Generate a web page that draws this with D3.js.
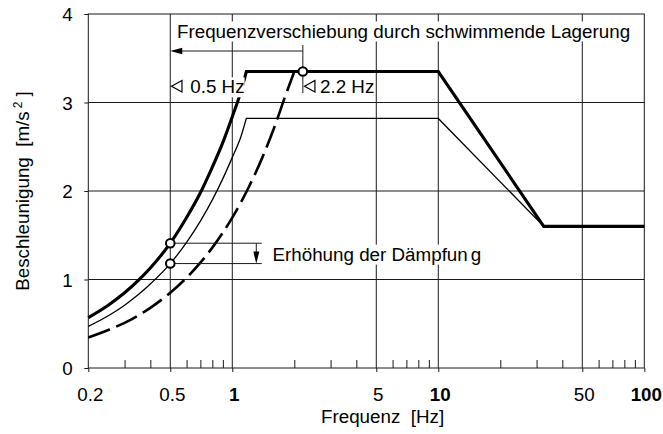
<!DOCTYPE html>
<html><head><meta charset="utf-8">
<script src="https://cdn.jsdelivr.net/npm/d3@7"></script>
<style>
body{margin:0;background:#fff}
svg{display:block}
text{font-family:"Liberation Sans",Arial,Helvetica,sans-serif;fill:#000;white-space:pre}
</style>
</head><body>
<svg id="chart" width="663" height="434"></svg>
<script>
// ---- data ----
const xTicks = [0.2, 0.5, 1, 5, 10, 50, 100];
const xTickLabels = ["0.2", "0.5", "1", "5", "10", "50", "100"];
const xBoldLabels = ["1", "10", "100"];
const xMinorTicks = [0.3, 0.4, 0.6, 0.7, 0.8, 0.9, 2, 3, 4, 6, 7, 8, 9, 20, 30, 40, 60, 70, 80, 90];
const yTicks = [0, 1, 2, 3, 4];
const xGrid = [0.5, 1, 5, 10, 50];
const yGrid = [1, 2, 3];

// rising branches (frequency in Hz, acceleration in m/s^2)
const riseFreq = [0.2, 0.25, 0.3, 0.35, 0.4, 0.5, 0.6, 0.7, 0.8, 0.9, 1.0, 1.1, 1.17];
const boldRise = [0.57, 0.71, 0.85, 0.99, 1.13, 1.41, 1.70, 1.98, 2.27, 2.55, 2.84, 3.12, 3.35];
const thinRise = [0.47, 0.59, 0.71, 0.83, 0.95, 1.18, 1.42, 1.66, 1.90, 2.14, 2.38, 2.61, 2.82];
const dashFreq = [0.2, 0.25, 0.3, 0.4, 0.5, 0.6, 0.7, 0.8, 1.0, 1.2, 1.4, 1.6, 1.8, 2.0];
const dashRise = [0.345, 0.43, 0.51, 0.68, 0.85, 1.02, 1.19, 1.36, 1.70, 2.04, 2.38, 2.72, 3.06, 3.35];

// plateaus and descending branches
const boldTailFreq = [1.17, 10, 32.5, 100];
const boldTail = [3.35, 3.35, 1.6, 1.6];
const thinTailFreq = [1.17, 10, 32.5];
const thinTail = [2.82, 2.82, 1.6];

// marked points
const markerFreq = [0.5, 0.5, 2.2];
const markerVal = [1.41, 1.18, 3.35];

const shiftFromFreq = 2.2, shiftToFreq = 0.5;
const titleText = "Frequenzverschiebung durch schwimmende Lagerung";
const label05 = "0.5 Hz";
const label22 = "2.2 Hz";
const dampText = "Erhöhung der Dämpfun";
const dampTextEnd = "g";
const xTitle = "Frequenz  [Hz]";
const yTitle = "Beschleunigung  [m/s";

// ---- drawing ----
const FS = 18.8;
const svg = d3.select("#chart");
svg.append("rect").attr("width", 663).attr("height", 434).attr("fill", "#fff");

const x = d3.scaleLog().domain([0.2, 100]).range([88.3, 644.3]);
const y = d3.scaleLinear().domain([0, 4]).range([368, 14]);
const X0 = x.range()[0], X1 = x.range()[1], Y0 = y.range()[0], Y1 = y.range()[1];

const gridCol = "#1a1a1a";
const grid = svg.append("g").attr("stroke", gridCol).attr("stroke-width", 1).attr("fill", "none");
xGrid.forEach(f => grid.append("line").attr("x1", x(f)).attr("x2", x(f)).attr("y1", Y1).attr("y2", Y0));
yGrid.forEach(v => grid.append("line").attr("x1", X0).attr("x2", X1).attr("y1", y(v)).attr("y2", y(v)));
grid.append("rect").attr("x", X0).attr("y", Y1).attr("width", X1 - X0).attr("height", Y0 - Y1);

// axes
const xAxis = svg.append("g").attr("transform", `translate(0,${Y0})`)
  .call(d3.axisBottom(x).tickValues(xTicks).tickFormat((d, i) => xTickLabels[i]).tickSize(4).tickPadding(15.8));
xAxis.select(".domain").remove();
xAxis.selectAll("line").attr("stroke", gridCol);
xAxis.selectAll("text").attr("font-size", FS).attr("font-family", null).attr("dx", "0.08em")
  .attr("font-weight", d => xBoldLabels.includes(xTickLabels[xTicks.indexOf(d)]) ? "bold" : "normal");

const xMinor = svg.append("g").attr("transform", `translate(0,${Y0})`)
  .call(d3.axisBottom(x).tickValues(xMinorTicks).tickFormat("").tickSize(-8));
xMinor.select(".domain").remove();
xMinor.selectAll("line").attr("stroke", gridCol);

const yAxis = svg.append("g").attr("transform", `translate(${X0},0)`)
  .call(d3.axisLeft(y).tickValues(yTicks).tickFormat(d3.format("d")).tickSize(4).tickPadding(11.6));
yAxis.select(".domain").remove();
yAxis.selectAll("line").attr("stroke", gridCol);
yAxis.selectAll("text").attr("font-size", FS).attr("font-family", null).attr("dy", "0.36em");

// axis titles
svg.append("text").attr("x", 321).attr("y", 422.5).attr("font-size", FS).text(xTitle);
const yt = svg.append("text").attr("transform", "translate(28.5,191) rotate(-90)")
  .attr("text-anchor", "middle").attr("font-size", FS);
yt.append("tspan").text(yTitle);
yt.append("tspan").attr("dx", 3).attr("dy", -6.5).attr("font-size", 12).text("2");
yt.append("tspan").attr("dy", 6.5).text(" ]");

// curves
function seriesPath(fr, vals, tailFr, tailVals) {
  const pts = fr.map((f, i) => [x(f), y(vals[i])]);
  let p = d3.line().curve(d3.curveMonotoneX)(pts);
  if (tailFr) {
    const tail = d3.line()(tailFr.map((f, i) => [x(f), y(tailVals[i])]));
    p += tail.replace(/^M[^L]*/, "");
  }
  return p;
}
const curves = svg.append("g").attr("fill", "none").attr("stroke", "#000").attr("stroke-linejoin", "miter");
curves.append("path").attr("d", seriesPath(riseFreq, thinRise, thinTailFreq, thinTail)).attr("stroke-width", 1.3);
curves.append("path").attr("d", seriesPath(dashFreq, dashRise)).attr("stroke-width", 2.6).attr("stroke-dasharray", "23,7");
curves.append("path").attr("d", seriesPath(riseFreq, boldRise, boldTailFreq, boldTail)).attr("stroke-width", 3.1);

// labels with white backgrounds
function bgText(tx, ty, parts, padX) {
  const g = svg.append("g");
  const r = g.append("rect").attr("fill", "#fff");
  const t = g.append("text").attr("x", tx).attr("y", ty).attr("font-size", FS);
  parts.forEach(p => { const s = t.append("tspan").text(p.text); if (p.dx) s.attr("dx", p.dx); });
  const b = t.node().getBBox();
  r.attr("x", b.x - (padX || 0)).attr("y", b.y + 1).attr("width", b.width + 2 * (padX || 0)).attr("height", b.height - 1);
  return g;
}
bgText(177, 37.5, [{text: titleText}], 1);
bgText(190.3, 93.3, [{text: label05}], 0);
bgText(320, 93.3, [{text: label22}], 0);
bgText(272.5, 260.6, [{text: dampText}, {text: dampTextEnd, dx: 3}], 1);

// annotation: frequency shift arrow
const ann = svg.append("g").attr("stroke", gridCol).attr("stroke-width", 1).attr("fill", "none");
const yShift = 51;
ann.append("line").attr("x1", x(shiftToFreq) + 8).attr("x2", x(shiftFromFreq)).attr("y1", yShift).attr("y2", yShift);
ann.append("line").attr("x1", x(shiftFromFreq)).attr("x2", x(shiftFromFreq)).attr("y1", 45).attr("y2", 93);
svg.append("path").attr("fill", "#000")
  .attr("d", `M${x(shiftToFreq)},${yShift}L${x(shiftToFreq) + 12},${yShift - 3.2}L${x(shiftToFreq) + 12},${yShift + 3.2}Z`);

// open triangles before the Hz labels
function tri(px) {
  svg.append("path").attr("fill", "none").attr("stroke", "#000").attr("stroke-width", 1.2)
    .attr("d", `M${px},86.3L${px + 10.5},80.5L${px + 10.5},92.1Z`);
}
tri(x(shiftToFreq) + 1.2);
tri(x(shiftFromFreq) + 1.6);

// annotation: damping increase
const yA = y(markerVal[0]), yB = y(markerVal[1]);
const xEnd = x(1) + 29.5, xArr = x(1) + 24;
ann.append("line").attr("x1", x(0.5)).attr("x2", xEnd).attr("y1", yA).attr("y2", yA);
ann.append("line").attr("x1", x(0.5)).attr("x2", xEnd).attr("y1", yB).attr("y2", yB);
ann.append("line").attr("x1", xArr).attr("x2", xArr).attr("y1", yA).attr("y2", yB - 10);
svg.append("path").attr("fill", "#000")
  .attr("d", `M${xArr},${yB}L${xArr - 3},${yB - 12}L${xArr + 3},${yB - 12}Z`);

// markers
svg.append("g").selectAll("circle").data(markerFreq).join("circle")
  .attr("cx", d => x(d)).attr("cy", (d, i) => y(markerVal[i])).attr("r", 4.3)
  .attr("fill", "#fff").attr("stroke", "#000").attr("stroke-width", 2);
</script>
</body></html>
